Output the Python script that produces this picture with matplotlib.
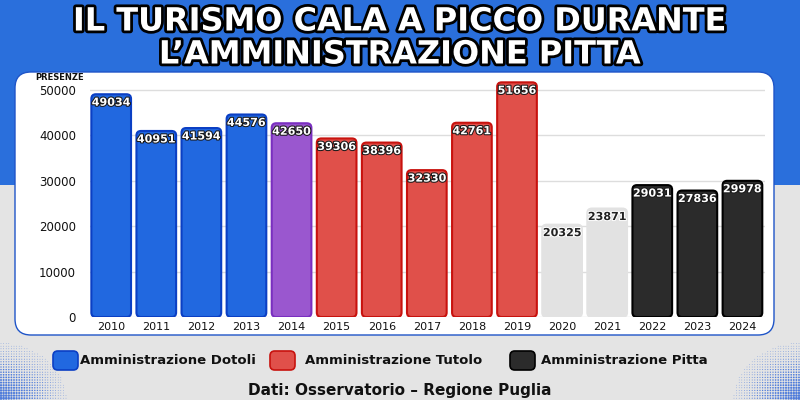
import numpy as np
import matplotlib.pyplot as plt
import matplotlib.patheffects as pe
from matplotlib.patches import FancyBboxPatch, Rectangle

years = [str(y) for y in range(2010, 2025)]
presenze = [49034, 40951, 41594, 44576, 42650, 39306, 38396, 32330,
            42761, 51656, 20325, 23871, 29031, 27836, 29978]
amministrazione = ['Dotoli'] * 4 + ['mix'] + ['Tutolo'] * 5 + ['covid'] * 2 + ['Pitta'] * 3

colori = {
    'Dotoli': ('#2168e0', '#0b3fc4'),
    'mix': ('#9a57cf', '#7a2fc0'),
    'Tutolo': ('#e0504a', '#c8120e'),
    'covid': ('#e2e2e2', '#e2e2e2'),
    'Pitta': ('#2b2b2b', '#000000'),
}
legenda = [('Dotoli', 'Amministrazione Dotoli'),
           ('Tutolo', 'Amministrazione Tutolo'),
           ('Pitta', 'Amministrazione Pitta')]

W, H = 800, 400
fig = plt.figure(figsize=(8, 4), dpi=100)
fig.patch.set_facecolor('#e4e4e4')

# halftone dots in the bottom corners (decoration)
deco = fig.add_axes([0, 0, 1, 1], zorder=0)
deco.set_xlim(0, W)
deco.set_ylim(H, 0)
deco.axis('off')
gx, gy = np.meshgrid(np.arange(1, 70, 2.6), np.arange(341, 401, 2.6))
for flip in (False, True):
    dx = gx if not flip else W - gx
    t = np.clip(1 - np.hypot(gx / 70, (400 - gy) / 60), 0, 1)
    m = t > 0.05
    deco.scatter(dx[m], gy[m], s=(t[m] * 2.0) ** 2 + 0.2, color='#1e5ad8',
                 alpha=0.75, lw=0)

# background: blue top band and white rounded panel
fig.patches.append(Rectangle((0, 1 - 185 / H), 1, 185 / H, transform=fig.transFigure,
                             facecolor='#2a6fdc', edgecolor='none', zorder=0))
fig.patches.append(FancyBboxPatch((15 / W, 1 - 335 / H), 759 / W, 263 / H,
                                  boxstyle='round,pad=0,rounding_size=0.02',
                                  mutation_aspect=2, transform=fig.transFigure,
                                  facecolor='white', edgecolor='#1f55c8', lw=1, zorder=1))

titolo = ['IL TURISMO CALA A PICCO DURANTE', 'L\u2019AMMINISTRAZIONE PITTA']
for i, riga in enumerate(titolo):
    fig.text(0.5, 1 - (22 + i * 33) / H, riga, ha='center', va='center',
             fontsize=23, fontweight='heavy', color='white', family='DejaVu Sans',
             path_effects=[pe.withStroke(linewidth=4, foreground='black')])

ax = fig.add_axes([90 / W, 1 - 317 / H, 675 / W, (317 - 78.5) / H])
ax.set_facecolor('none')
ax.set_zorder(2)

x = list(range(len(years)))
bars = ax.bar(x, presenze, width=0.88)
ax.set_xlim(-0.47, 14.5)
ax.set_ylim(0, 52500)

fig.canvas.draw()
# convert a pixel radius into data units for rounded bar tops
p0 = ax.transData.inverted().transform((0, 0))
p1 = ax.transData.inverted().transform((1, 1))
aspect = (p1[1] - p0[1]) / (p1[0] - p0[0])

for bar, amm, val in zip(bars, amministrazione, presenze):
    fc, ec = colori[amm]
    bx, by, bw, bh = bar.get_x(), bar.get_y(), bar.get_width(), bar.get_height()
    bar.set_visible(False)
    ax.add_patch(FancyBboxPatch((bx, by), bw, bh,
                                boxstyle='round,pad=0,rounding_size=0.1',
                                mutation_aspect=aspect, facecolor=fc,
                                edgecolor=ec, lw=1.5, zorder=3))
    if amm == 'covid':
        tc, sc = '#222222', 'white'
    else:
        tc, sc = 'white', '#1a1a1a'
    ax.annotate(str(val), (bar.get_x() + bw / 2, val), xytext=(0, -2.5),
                textcoords='offset points', ha='center', va='top',
                fontsize=8, fontweight='bold', color=tc, zorder=4,
                path_effects=[pe.withStroke(linewidth=1.5, foreground=sc)])

ax.set_yticks(range(0, 50001, 10000))
ax.grid(axis='y', color='#dddddd', lw=1)
ax.set_axisbelow(True)
ax.set_xticks(x, years)
ax.tick_params(length=0, labelsize=8, colors='#111111')
ax.tick_params(axis='y', pad=10, labelsize=8.5)
for s in ax.spines.values():
    s.set_visible(False)

fig.text(35 / W, 1 - 78 / H, 'PRESENZE', fontsize=6, fontweight='bold',
         va='center', color='#111111', zorder=5)

# legend
pos = [(53, 80), (270, 305), (510, 541)]
for (key, lab), (sx, tx) in zip(legenda, pos):
    fc, ec = colori[key]
    fig.patches.append(FancyBboxPatch((sx / W, 1 - 370 / H), 25 / W, 19 / H,
                                      boxstyle='round,pad=0,rounding_size=0.006',
                                      mutation_aspect=2, transform=fig.transFigure,
                                      facecolor=fc, edgecolor=ec, lw=1.2, zorder=3))
    fig.text(tx / W, 1 - 361 / H, lab, fontsize=9.5, fontweight='bold',
             va='center', color='#111111')

fig.text(0.5, 1 - 390 / H, 'Dati: Osservatorio \u2013 Regione Puglia', ha='center',
         va='center', fontsize=11, fontweight='bold', color='#111111')

fig.savefig('out.png', dpi=100)
